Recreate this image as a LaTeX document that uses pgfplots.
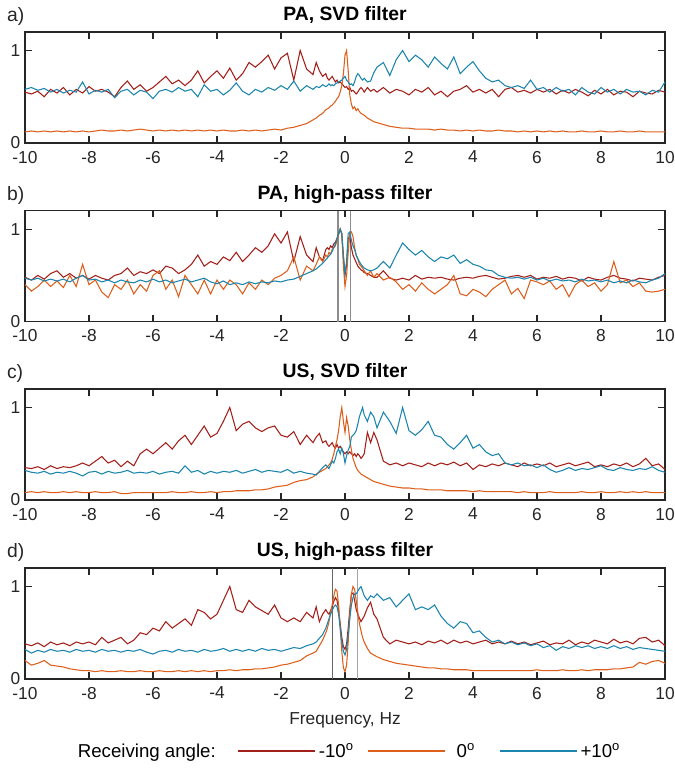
\documentclass[border=0pt]{standalone}
\usepackage{fontspec}
\setmainfont{Liberation Sans}
\usepackage{pgfplots}
\usepackage{pgfplotstable}
\pgfplotsset{compat=1.18}

\definecolor{cr}{HTML}{A3201A}
\definecolor{co}{HTML}{DE5F1C}
\definecolor{cb}{HTML}{1B85AD}
\definecolor{ax}{HTML}{262626}

\pgfplotstableread{
x r o b
-10.0 0.55 0.12 0.58
-9.8 0.53 0.13 0.60
-9.6 0.56 0.12 0.57
-9.4 0.50 0.13 0.59
-9.2 0.58 0.12 0.55
-9.0 0.54 0.13 0.58
-8.8 0.60 0.12 0.54
-8.6 0.52 0.13 0.57
-8.4 0.58 0.12 0.55
-8.2 0.54 0.13 0.66
-8.0 0.61 0.12 0.53
-7.8 0.56 0.13 0.57
-7.6 0.58 0.14 0.55
-7.4 0.55 0.13 0.58
-7.2 0.50 0.13 0.49
-7.0 0.60 0.14 0.56
-6.8 0.67 0.13 0.58
-6.6 0.58 0.14 0.52
-6.4 0.63 0.15 0.57
-6.2 0.56 0.14 0.55
-6.0 0.60 0.13 0.48
-5.8 0.66 0.14 0.56
-5.6 0.72 0.13 0.58
-5.4 0.64 0.14 0.55
-5.2 0.68 0.13 0.60
-5.0 0.62 0.14 0.56
-4.8 0.68 0.13 0.58
-4.6 0.78 0.14 0.50
-4.4 0.65 0.13 0.63
-4.2 0.72 0.14 0.56
-4.0 0.78 0.13 0.58
-3.8 0.70 0.14 0.52
-3.6 0.81 0.13 0.57
-3.4 0.68 0.13 0.65
-3.2 0.75 0.14 0.56
-3.0 0.87 0.13 0.52
-2.8 0.82 0.14 0.58
-2.6 0.88 0.13 0.55
-2.4 0.95 0.14 0.60
-2.2 0.80 0.15 0.57
-2.0 0.92 0.14 0.62
-1.8 0.97 0.16 0.58
-1.6 0.68 0.17 0.67
-1.4 1.00 0.19 0.56
-1.2 0.80 0.21 0.62
-1.0 0.74 0.25 0.58
-0.9 0.87 0.27 0.61
-0.8 0.78 0.30 0.60
-0.7 0.72 0.32 0.63
-0.6 0.75 0.36 0.61
-0.55 0.70 0.37 0.62
-0.5 0.68 0.38 0.64
-0.45 0.70 0.40 0.62
-0.4 0.72 0.41 0.63
-0.35 0.69 0.43 0.62
-0.3 0.66 0.45 0.64
-0.25 0.68 0.48 0.65
-0.2 0.65 0.50 0.66
-0.15 0.66 0.55 0.67
-0.1 0.64 0.62 0.68
-0.05 0.62 0.75 0.70
0.0 0.60 0.95 0.72
0.05 0.61 1.00 0.68
0.1 0.58 0.78 0.66
0.15 0.60 0.52 0.63
0.2 0.56 0.42 0.64
0.25 0.57 0.37 0.62
0.3 0.55 0.39 0.66
0.35 0.53 0.35 0.72
0.4 0.55 0.37 0.75
0.45 0.58 0.34 0.73
0.5 0.60 0.32 0.70
0.55 0.58 0.31 0.68
0.6 0.55 0.30 0.70
0.7 0.60 0.27 0.66
0.8 0.56 0.25 0.67
0.9 0.58 0.23 0.76
1.0 0.55 0.22 0.82
1.2 0.60 0.20 0.87
1.4 0.54 0.18 0.73
1.6 0.58 0.17 0.90
1.8 0.56 0.16 1.00
2.0 0.52 0.16 0.88
2.2 0.58 0.15 0.95
2.4 0.55 0.15 0.90
2.6 0.60 0.15 0.82
2.8 0.52 0.14 0.93
3.0 0.56 0.15 0.86
3.2 0.50 0.14 0.80
3.4 0.56 0.14 0.93
3.6 0.58 0.13 0.75
3.8 0.62 0.14 0.82
4.0 0.55 0.13 0.88
4.2 0.58 0.14 0.78
4.4 0.54 0.13 0.70
4.6 0.58 0.13 0.66
4.8 0.50 0.14 0.68
5.0 0.58 0.13 0.62
5.2 0.60 0.13 0.60
5.4 0.55 0.12 0.62
5.6 0.57 0.13 0.59
5.8 0.54 0.12 0.68
6.0 0.58 0.13 0.58
6.2 0.55 0.12 0.60
6.4 0.58 0.13 0.55
6.6 0.53 0.12 0.60
6.8 0.57 0.13 0.56
7.0 0.54 0.12 0.58
7.2 0.58 0.12 0.52
7.4 0.55 0.13 0.60
7.6 0.51 0.12 0.55
7.8 0.57 0.12 0.53
8.0 0.53 0.13 0.60
8.2 0.58 0.12 0.55
8.4 0.52 0.12 0.58
8.6 0.56 0.13 0.53
8.8 0.55 0.12 0.58
9.0 0.50 0.12 0.55
9.2 0.56 0.13 0.56
9.4 0.54 0.12 0.52
9.6 0.53 0.12 0.57
9.8 0.57 0.12 0.55
10.0 0.55 0.12 0.66
}\tA

\pgfplotstableread{
x r o b
-10.0 0.48 0.40 0.47
-9.8 0.45 0.33 0.45
-9.6 0.50 0.38 0.47
-9.4 0.46 0.45 0.44
-9.2 0.52 0.38 0.46
-9.0 0.55 0.44 0.44
-8.8 0.48 0.37 0.46
-8.6 0.52 0.50 0.43
-8.4 0.47 0.38 0.47
-8.2 0.50 0.62 0.50
-8.0 0.46 0.40 0.45
-7.8 0.50 0.45 0.46
-7.6 0.47 0.32 0.43
-7.4 0.45 0.26 0.45
-7.2 0.50 0.40 0.42
-7.0 0.52 0.35 0.45
-6.8 0.58 0.45 0.43
-6.6 0.50 0.30 0.42
-6.4 0.54 0.40 0.45
-6.2 0.52 0.33 0.43
-6.0 0.56 0.50 0.46
-5.8 0.52 0.55 0.43
-5.6 0.60 0.35 0.45
-5.4 0.58 0.45 0.42
-5.2 0.52 0.27 0.44
-5.0 0.56 0.50 0.46
-4.8 0.62 0.40 0.43
-4.6 0.72 0.30 0.45
-4.4 0.60 0.45 0.47
-4.2 0.65 0.30 0.43
-4.0 0.62 0.45 0.41
-3.8 0.70 0.35 0.44
-3.6 0.66 0.45 0.40
-3.4 0.75 0.40 0.42
-3.2 0.65 0.30 0.40
-3.0 0.72 0.42 0.43
-2.8 0.80 0.35 0.41
-2.6 0.75 0.45 0.43
-2.4 0.82 0.40 0.42
-2.2 0.95 0.47 0.44
-2.0 0.85 0.50 0.43
-1.8 0.97 0.55 0.45
-1.6 0.65 0.70 0.46
-1.4 0.92 0.45 0.49
-1.2 0.72 0.60 0.52
-1.0 0.65 0.55 0.55
-0.9 0.80 0.62 0.57
-0.8 0.70 0.70 0.60
-0.7 0.66 0.65 0.63
-0.6 0.78 0.72 0.67
-0.55 0.80 0.70 0.69
-0.5 0.78 0.75 0.71
-0.45 0.82 0.73 0.73
-0.4 0.80 0.78 0.76
-0.35 0.84 0.80 0.80
-0.3 0.86 0.82 0.84
-0.25 0.90 0.88 0.90
-0.2 0.95 0.94 0.95
-0.15 1.00 1.00 1.00
-0.1 0.95 0.95 0.95
-0.05 0.70 0.60 0.72
0.0 0.50 0.38 0.52
0.05 0.62 0.50 0.65
0.1 0.90 0.75 0.95
0.15 0.92 0.95 0.97
0.2 0.80 0.97 0.88
0.25 0.72 0.92 0.82
0.3 0.68 0.80 0.78
0.35 0.64 0.72 0.72
0.4 0.60 0.68 0.68
0.45 0.58 0.62 0.65
0.5 0.56 0.60 0.62
0.55 0.55 0.58 0.60
0.6 0.53 0.55 0.58
0.7 0.52 0.50 0.56
0.8 0.50 0.55 0.55
0.9 0.48 0.48 0.56
1.0 0.48 0.52 0.58
1.2 0.55 0.45 0.65
1.4 0.47 0.48 0.58
1.6 0.45 0.43 0.72
1.8 0.47 0.35 0.85
2.0 0.45 0.40 0.78
2.2 0.50 0.33 0.72
2.4 0.46 0.42 0.77
2.6 0.48 0.35 0.70
2.8 0.47 0.30 0.65
3.0 0.48 0.35 0.70
3.2 0.46 0.40 0.68
3.4 0.45 0.50 0.72
3.6 0.47 0.30 0.63
3.8 0.48 0.28 0.67
4.0 0.47 0.35 0.62
4.2 0.49 0.32 0.60
4.4 0.50 0.27 0.56
4.6 0.48 0.35 0.55
4.8 0.46 0.40 0.50
5.0 0.47 0.45 0.48
5.2 0.49 0.30 0.47
5.4 0.50 0.36 0.48
5.6 0.48 0.25 0.46
5.8 0.50 0.45 0.48
6.0 0.46 0.43 0.45
6.2 0.48 0.40 0.47
6.4 0.47 0.44 0.44
6.6 0.49 0.35 0.46
6.8 0.46 0.40 0.44
7.0 0.48 0.27 0.45
7.2 0.47 0.40 0.43
7.4 0.44 0.45 0.46
7.6 0.48 0.38 0.44
7.8 0.46 0.42 0.45
8.0 0.45 0.33 0.43
8.2 0.48 0.40 0.45
8.4 0.50 0.65 0.42
8.6 0.47 0.42 0.44
8.8 0.46 0.45 0.42
9.0 0.44 0.38 0.45
9.2 0.47 0.42 0.43
9.4 0.46 0.33 0.42
9.6 0.45 0.32 0.45
9.8 0.48 0.33 0.47
10.0 0.50 0.35 0.52
}\tB

\pgfplotstableread{
x r o b
-10.0 0.35 0.08 0.32
-9.8 0.34 0.09 0.30
-9.6 0.36 0.08 0.29
-9.4 0.33 0.09 0.31
-9.2 0.37 0.08 0.28
-9.0 0.34 0.08 0.30
-8.8 0.36 0.09 0.29
-8.6 0.35 0.08 0.31
-8.4 0.37 0.09 0.29
-8.2 0.40 0.08 0.26
-8.0 0.37 0.08 0.30
-7.8 0.42 0.09 0.31
-7.6 0.47 0.08 0.28
-7.4 0.40 0.08 0.31
-7.2 0.43 0.09 0.29
-7.0 0.36 0.07 0.30
-6.8 0.42 0.07 0.32
-6.6 0.37 0.08 0.29
-6.4 0.50 0.08 0.30
-6.2 0.55 0.08 0.29
-6.0 0.50 0.08 0.31
-5.8 0.56 0.08 0.28
-5.6 0.62 0.08 0.30
-5.4 0.55 0.09 0.31
-5.2 0.64 0.08 0.29
-5.0 0.70 0.08 0.37
-4.8 0.60 0.09 0.30
-4.6 0.70 0.08 0.32
-4.4 0.80 0.08 0.28
-4.2 0.68 0.09 0.31
-4.0 0.72 0.08 0.29
-3.8 0.85 0.09 0.31
-3.6 1.00 0.09 0.30
-3.4 0.75 0.10 0.32
-3.2 0.82 0.10 0.29
-3.0 0.85 0.10 0.31
-2.8 0.78 0.11 0.33
-2.6 0.74 0.11 0.30
-2.4 0.78 0.12 0.32
-2.2 0.80 0.14 0.31
-2.0 0.70 0.15 0.30
-1.8 0.68 0.16 0.33
-1.6 0.74 0.19 0.29
-1.4 0.60 0.21 0.31
-1.2 0.70 0.22 0.29
-1.0 0.62 0.25 0.28
-0.9 0.68 0.28 0.27
-0.8 0.72 0.30 0.31
-0.7 0.62 0.32 0.35
-0.6 0.64 0.34 0.38
-0.55 0.60 0.36 0.36
-0.5 0.58 0.38 0.34
-0.45 0.60 0.40 0.38
-0.4 0.62 0.44 0.42
-0.35 0.58 0.50 0.40
-0.3 0.56 0.58 0.45
-0.25 0.60 0.65 0.52
-0.2 0.56 0.75 0.55
-0.15 0.58 0.90 0.50
-0.1 0.55 1.00 0.56
-0.05 0.52 0.85 0.50
0.0 0.50 0.73 0.40
0.05 0.52 0.89 0.48
0.1 0.50 0.80 0.54
0.15 0.52 0.65 0.58
0.2 0.50 0.54 0.68
0.25 0.48 0.45 0.70
0.3 0.50 0.40 0.72
0.35 0.47 0.35 0.75
0.4 0.50 0.32 0.82
0.45 0.48 0.30 0.90
0.5 0.45 0.28 0.95
0.55 0.47 0.27 1.00
0.6 0.50 0.26 0.92
0.7 0.73 0.24 0.85
0.8 0.62 0.22 0.95
0.9 0.73 0.20 0.90
1.0 0.65 0.19 0.78
1.2 0.42 0.17 0.95
1.4 0.38 0.15 0.85
1.6 0.40 0.14 0.72
1.8 0.37 0.13 1.00
2.0 0.40 0.13 0.75
2.2 0.38 0.12 0.70
2.4 0.36 0.12 0.76
2.6 0.40 0.11 0.85
2.8 0.37 0.11 0.70
3.0 0.40 0.11 0.68
3.2 0.38 0.10 0.60
3.4 0.41 0.10 0.55
3.6 0.37 0.10 0.62
3.8 0.40 0.10 0.70
4.0 0.33 0.09 0.56
4.2 0.38 0.10 0.60
4.4 0.36 0.09 0.52
4.6 0.39 0.09 0.48
4.8 0.37 0.09 0.50
5.0 0.40 0.09 0.40
5.2 0.38 0.09 0.38
5.4 0.36 0.08 0.40
5.6 0.40 0.09 0.37
5.8 0.37 0.08 0.38
6.0 0.39 0.08 0.35
6.2 0.37 0.08 0.38
6.4 0.40 0.09 0.33
6.6 0.36 0.08 0.30
6.8 0.38 0.08 0.32
7.0 0.40 0.08 0.35
7.2 0.37 0.08 0.32
7.4 0.39 0.09 0.34
7.6 0.41 0.08 0.33
7.8 0.36 0.08 0.35
8.0 0.38 0.09 0.37
8.2 0.36 0.08 0.33
8.4 0.39 0.08 0.32
8.6 0.37 0.09 0.35
8.8 0.40 0.08 0.33
9.0 0.36 0.09 0.32
9.2 0.39 0.08 0.34
9.4 0.45 0.09 0.33
9.6 0.37 0.08 0.36
9.8 0.39 0.08 0.32
10.0 0.33 0.08 0.30
}\tC

\pgfplotstableread{
x r o b
-10.0 0.38 0.20 0.32
-9.8 0.36 0.15 0.28
-9.6 0.39 0.17 0.31
-9.4 0.35 0.20 0.29
-9.2 0.40 0.15 0.32
-9.0 0.37 0.14 0.30
-8.8 0.39 0.13 0.31
-8.6 0.36 0.11 0.29
-8.4 0.40 0.10 0.32
-8.2 0.38 0.09 0.30
-8.0 0.40 0.09 0.31
-7.8 0.37 0.08 0.29
-7.6 0.45 0.09 0.32
-7.4 0.39 0.08 0.30
-7.2 0.42 0.08 0.31
-7.0 0.45 0.09 0.29
-6.8 0.38 0.08 0.31
-6.6 0.42 0.08 0.30
-6.4 0.50 0.09 0.32
-6.2 0.48 0.08 0.29
-6.0 0.55 0.08 0.27
-5.8 0.52 0.09 0.30
-5.6 0.62 0.08 0.31
-5.4 0.55 0.08 0.29
-5.2 0.60 0.09 0.32
-5.0 0.65 0.08 0.30
-4.8 0.58 0.09 0.31
-4.6 0.75 0.08 0.29
-4.4 0.72 0.09 0.32
-4.2 0.65 0.08 0.30
-4.0 0.70 0.09 0.31
-3.8 0.85 0.09 0.33
-3.6 1.00 0.10 0.30
-3.4 0.75 0.09 0.32
-3.2 0.72 0.10 0.30
-3.0 0.85 0.10 0.32
-2.8 0.78 0.11 0.30
-2.6 0.74 0.11 0.33
-2.4 0.70 0.12 0.31
-2.2 0.80 0.13 0.32
-2.0 0.66 0.15 0.30
-1.8 0.62 0.16 0.32
-1.6 0.66 0.18 0.34
-1.4 0.62 0.20 0.33
-1.2 0.72 0.25 0.36
-1.0 0.66 0.28 0.38
-0.9 0.78 0.30 0.40
-0.8 0.62 0.36 0.44
-0.7 0.70 0.42 0.48
-0.6 0.75 0.50 0.55
-0.55 0.72 0.55 0.60
-0.5 0.70 0.62 0.65
-0.45 0.74 0.72 0.70
-0.4 0.78 0.80 0.74
-0.35 0.84 0.90 0.78
-0.3 0.88 0.97 0.80
-0.25 0.85 0.95 0.78
-0.2 0.75 0.80 0.70
-0.15 0.60 0.55 0.55
-0.1 0.45 0.30 0.40
-0.05 0.35 0.12 0.30
0.0 0.32 0.08 0.26
0.05 0.38 0.15 0.32
0.1 0.55 0.40 0.48
0.15 0.75 0.70 0.65
0.2 0.92 0.92 0.80
0.25 0.93 1.00 0.88
0.3 0.85 0.97 0.92
0.35 0.75 0.85 0.92
0.4 0.70 0.72 0.95
0.45 0.66 0.60 0.98
0.5 0.62 0.52 1.00
0.55 0.65 0.45 0.95
0.6 0.68 0.40 0.90
0.7 0.77 0.33 0.85
0.8 0.83 0.28 0.90
0.9 0.70 0.26 0.88
1.0 0.65 0.24 0.92
1.2 0.45 0.21 0.85
1.4 0.38 0.19 0.88
1.6 0.42 0.17 0.78
1.8 0.40 0.16 0.85
2.0 0.38 0.15 0.92
2.2 0.40 0.14 0.75
2.4 0.37 0.13 0.78
2.6 0.41 0.12 0.75
2.8 0.39 0.12 0.80
3.0 0.42 0.11 0.68
3.2 0.38 0.11 0.60
3.4 0.42 0.10 0.55
3.6 0.39 0.10 0.62
3.8 0.41 0.10 0.60
4.0 0.38 0.09 0.50
4.2 0.40 0.09 0.52
4.4 0.42 0.09 0.45
4.6 0.38 0.09 0.40
4.8 0.40 0.09 0.42
5.0 0.38 0.09 0.38
5.2 0.41 0.09 0.40
5.4 0.38 0.09 0.37
5.6 0.40 0.09 0.39
5.8 0.37 0.09 0.36
6.0 0.39 0.10 0.38
6.2 0.41 0.09 0.34
6.4 0.37 0.09 0.36
6.6 0.39 0.09 0.31
6.8 0.38 0.10 0.35
7.0 0.42 0.09 0.33
7.2 0.37 0.09 0.36
7.4 0.40 0.10 0.34
7.6 0.38 0.09 0.36
7.8 0.42 0.10 0.33
8.0 0.40 0.10 0.35
8.2 0.38 0.10 0.33
8.4 0.43 0.11 0.36
8.6 0.39 0.11 0.33
8.8 0.41 0.12 0.35
9.0 0.38 0.13 0.32
9.2 0.44 0.18 0.34
9.4 0.45 0.16 0.33
9.6 0.40 0.19 0.32
9.8 0.42 0.20 0.31
10.0 0.36 0.17 0.30
}\tD

\pgfplotsset{panel/.style={
  width=480pt, height=83.25pt, scale only axis,
  xmin=-10, xmax=10, ymin=0, ymax=1.2,
  xtick={-10,-8,-6,-4,-2,0,2,4,6,8,10},
  xticklabels={-10,-8,-6,-4,-2,0,2,4,6,8,10},
  ytick={0,1}, yticklabels={0,1},
  tick align=inside, major tick length=5pt,
  axis line style={ax, line width=0.9pt},
  every tick/.style={ax, line width=0.9pt},
  tick label style={font=\fontsize{13}{15}\selectfont, text=ax},
  xticklabel style={yshift=-2.5pt},
  title style={font=\bfseries\fontsize{14.5}{17}\selectfont, text=black, at={(0.5,1)}, anchor=base, yshift=2.3pt},
  every axis plot/.append style={line width=0.8pt, mark=none},
  anchor=north west,
}}

\begin{document}
\begin{tikzpicture}
\path[use as bounding box] (-18.75pt,24pt) rectangle (487.5pt,-555pt);

\begin{axis}[panel, at={(0pt,0pt)}, title={PA, SVD filter}]
\addplot[cr] table[x=x,y=r]{\tA};
\addplot[co] table[x=x,y=o]{\tA};
\addplot[cb] table[x=x,y=b]{\tA};
\end{axis}

\begin{axis}[panel, at={(0pt,-134pt)}, title={PA, high-pass filter}]
\addplot[color=black!45, line width=1pt] coordinates {(-0.22,0) (-0.22,1.2)};
\addplot[color=black!45, line width=1pt] coordinates {(0.17,0) (0.17,1.2)};
\addplot[cr] table[x=x,y=r]{\tB};
\addplot[co] table[x=x,y=o]{\tB};
\addplot[cb] table[x=x,y=b]{\tB};
\end{axis}

\begin{axis}[panel, at={(0pt,-267.75pt)}, title={US, SVD filter}]
\addplot[cr] table[x=x,y=r]{\tC};
\addplot[co] table[x=x,y=o]{\tC};
\addplot[cb] table[x=x,y=b]{\tC};
\end{axis}

\begin{axis}[panel, at={(0pt,-402pt)}, title={US, high-pass filter},
  xlabel={Frequency, Hz},
  xlabel style={font=\fontsize{13}{15}\selectfont, text=ax, at={(0.5,0)}, anchor=base, yshift=-34pt},
  legend columns=4,
  legend style={draw=none, fill=none, at={(0.5,0)}, anchor=north, yshift=-44pt, xshift=3pt,
    font=\fontsize{14}{16}\selectfont,
    /tikz/every even column/.append style={column sep=2pt},
    /tikz/every odd column/.append style={column sep=0pt}},
  legend cell align=left,
  legend image code/.code={\draw[#1, line width=1.2pt] (0pt,0pt) -- (58pt,0pt);},
]
\addlegendimage{empty legend}
\addlegendentry{Receiving angle:\rule{12pt}{0pt}}
\addplot[forget plot, color=black!60, line width=1pt] coordinates {(-0.4,0) (-0.4,1.2)};
\addplot[forget plot, color=black!35, line width=1pt] coordinates {(0.4,0) (0.4,1.2)};
\addplot[cr] table[x=x,y=r]{\tD};
\addlegendentry{-10\textsuperscript{o}\rule{6pt}{0pt}}
\addplot[co] table[x=x,y=o]{\tD};
\addlegendentry{\rule{6pt}{0pt}0\textsuperscript{o}\rule{14pt}{0pt}}
\addplot[cb] table[x=x,y=b]{\tD};
\addlegendentry{+10\textsuperscript{o}}
\end{axis}

\node[anchor=base west, font=\fontsize{14.5}{17}\selectfont, text=ax] at (-17pt,8pt) {a)};
\node[anchor=base west, font=\fontsize{14.5}{17}\selectfont, text=ax] at (-17pt,-126pt) {b)};
\node[anchor=base west, font=\fontsize{14.5}{17}\selectfont, text=ax] at (-17pt,-259.75pt) {c)};
\node[anchor=base west, font=\fontsize{14.5}{17}\selectfont, text=ax] at (-17pt,-394pt) {d)};
\end{tikzpicture}
\end{document}
